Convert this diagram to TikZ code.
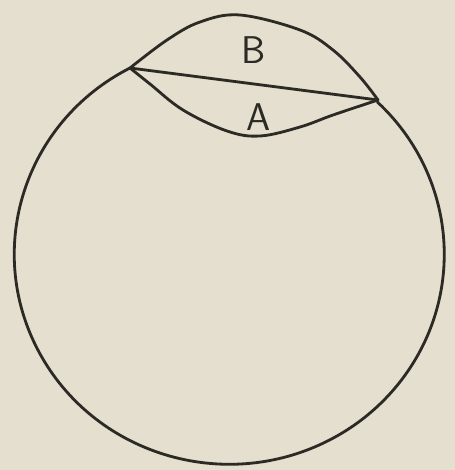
\documentclass[tikz,border=0pt]{standalone}
\begin{document}
\begin{tikzpicture}[x=0.02cm,y=-0.02cm,
  ink/.style={draw=inkc,line width=1.6pt,line cap=round,line join=round},
  lbl/.style={text=inkc,font=\sffamily\fontsize{22}{22}\selectfont,inner sep=0pt}]
\definecolor{inkc}{HTML}{2B2A24}
\definecolor{paper}{HTML}{E4DFCE}
\fill[paper] (0,0) rectangle (455,470);
\useasboundingbox (0,0) rectangle (455,470);
\coordinate (P) at (130,68);
\coordinate (Q) at (378,100);
% circle (major arc)
\draw[ink] (P) arc[start angle=-117.5, end angle=-406.5, x radius=215, y radius=210];
% chord
\draw[ink] (P) -- (Q);
% upper arc B
\draw[ink] plot[smooth,tension=0.6] coordinates {(P) (167,40) (200,22) (240,15) (300,30) (333,50) (360,77) (Q)};
% lower arc A
\draw[ink] plot[smooth,tension=0.6] coordinates {(P) (150,84) (183,110) (227,131) (260,136) (300,127) (333,115) (Q)};
\node[lbl] (B) at (254,50) {B};
\node[lbl] (A) at (259,117) {A};
\end{tikzpicture}
\end{document}
